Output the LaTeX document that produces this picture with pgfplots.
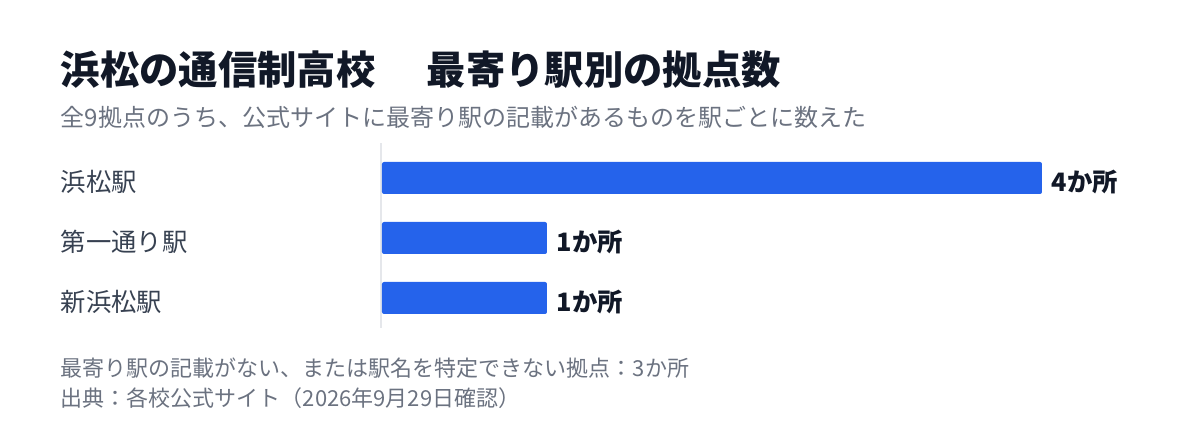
\documentclass[border=0pt]{standalone}
\usepackage{fontspec}
\setmainfont{Noto Sans CJK JP}
\usepackage{pgfplots}
\pgfplotsset{compat=1.18}
\definecolor{titlec}{HTML}{111827}
\definecolor{subc}{HTML}{6B7280}
\definecolor{labc}{HTML}{374151}
\definecolor{barc}{HTML}{2563EB}
\definecolor{linec}{HTML}{E5E7EB}
\begin{document}
\begin{tikzpicture}
\useasboundingbox (0,0) rectangle (900pt,336pt);
% title and subtitle
\node[anchor=base west, inner sep=0, text=titlec, font=\fontsize{29.5pt}{31pt}\selectfont\bfseries] at (45.5pt,272.5pt) {浜松の通信制高校\hspace{1.3em}最寄り駅別の拠点数};
\node[anchor=base west, inner sep=0, text=subc, font=\fontsize{18pt}{20pt}\selectfont] at (45.5pt,241pt) {全9拠点のうち、公式サイトに最寄り駅の記載があるものを駅ごとに数えた};
% baseline line
\draw[linec, line width=1.5pt] (285.75pt,228.75pt) -- (285.75pt,90pt);
\begin{axis}[
  at={(286.5pt,90pt)}, anchor=south west,
  scale only axis, width=495pt, height=135pt,
  xmin=0, xmax=4, ymin=-0.5, ymax=2.5,
  y dir=reverse,
  axis line style={draw=none},
  major tick length=0pt,
  xtick=\empty,
  ytick={0,1,2},
  yticklabels={浜松駅,第一通り駅,新浜松駅},
  yticklabel style={anchor=base west, inner sep=0pt, xshift=-241pt, yshift=-10.1pt, text=labc, font=\fontsize{19pt}{21pt}\selectfont},
  xbar, bar width=24pt,
  clip=false,
  /pgf/number format/assume math mode=true,
  nodes near coords={\pgfmathprintnumber{\pgfplotspointmeta}か所},
  every node near coord/.append style={anchor=base west, inner sep=0pt, xshift=7pt, yshift=-9.8pt, text=titlec, font=\fontsize{19pt}{21pt}\selectfont\bfseries},
]
\addplot[fill=barc, draw=none, rounded corners=1.5pt] coordinates {(4,0) (1,1) (1,2)};
\end{axis}
% footnotes
\node[anchor=base west, inner sep=0, text=subc, font=\fontsize{16.5pt}{18pt}\selectfont] at (45.5pt,53.25pt) {最寄り駅の記載がない、または駅名を特定できない拠点：3か所};
\node[anchor=base west, inner sep=0, text=subc, font=\fontsize{16.5pt}{18pt}\selectfont] at (45.5pt,30.75pt) {出典：各校公式サイト（2026年9月29日確認）};
\end{tikzpicture}
\end{document}
